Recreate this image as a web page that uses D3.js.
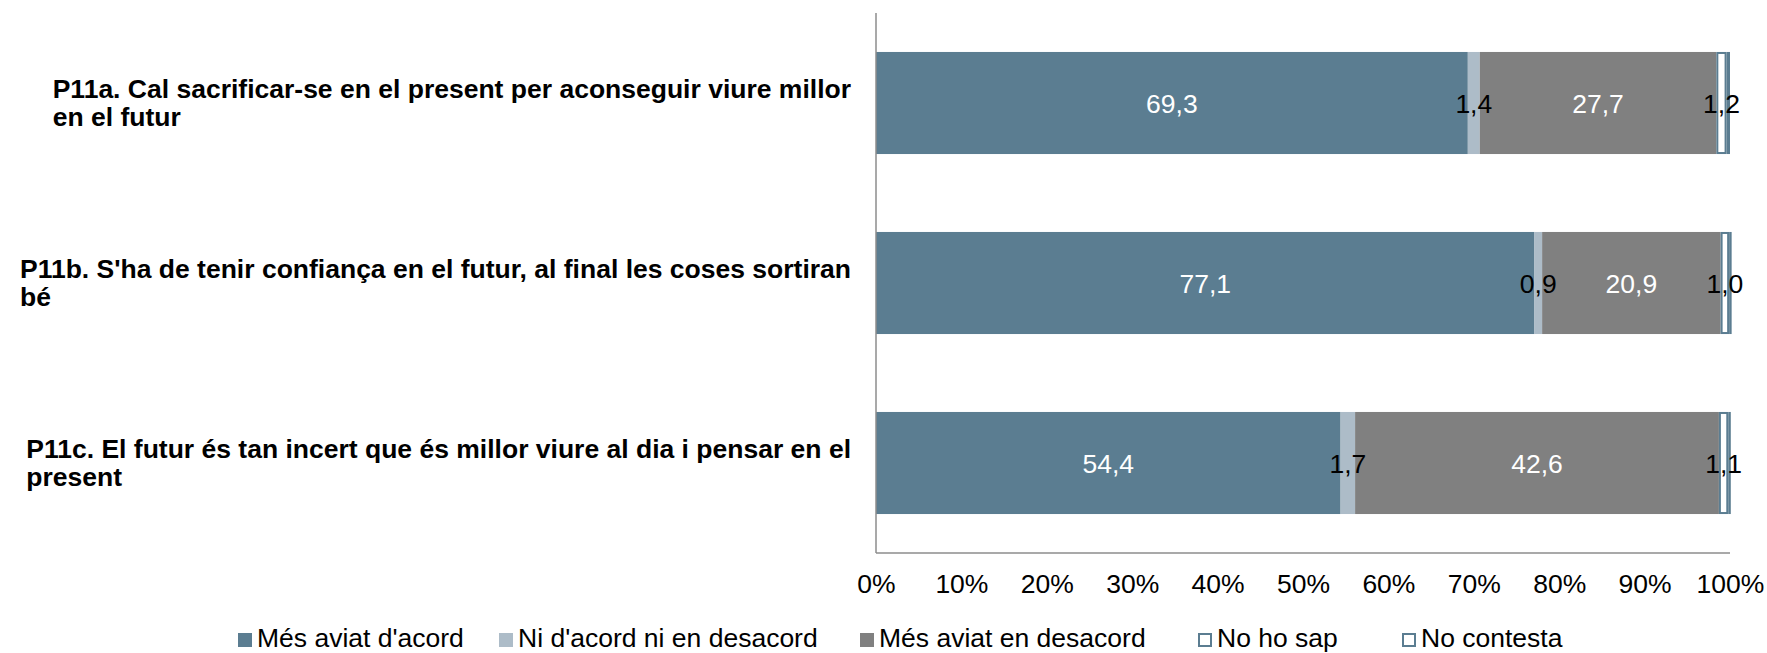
<!DOCTYPE html>
<html>
<head>
<meta charset="utf-8">
<script src="https://cdn.jsdelivr.net/npm/d3@7"></script>
<style>
  body { margin: 0; background: #fff; }
  text { font-family: "Liberation Sans", Arial, sans-serif; }
</style>
</head>
<body>
<div id="chart"></div>
<script>
// data
var categories = [
  ["P11a. Cal sacrificar-se en el present per aconseguir viure millor", "en el futur"],
  ["P11b. S'ha de tenir confiança en el futur, al final les coses sortiran", "bé"],
  ["P11c. El futur és tan incert que és millor viure al dia i pensar en el", "present"]
];
var series = ["Més aviat d'acord", "Ni d'acord ni en desacord", "Més aviat en desacord", "No ho sap", "No contesta"];
var acord = [69.3, 77.1, 54.4];
var niNi = [1.4, 0.9, 1.7];
var desacord = [27.7, 20.9, 42.6];
var noSap = [1.2, 1.0, 1.1];
var noContesta = [0.4, 0.1, 0.2];
var ticks = [0, 10, 20, 30, 40, 50, 60, 70, 80, 90, 100];

var fills = ["#5b7d91", "#adbcc8", "#808080", "#ffffff", "#ffffff"];
var strokes = [null, null, null, "#5b7d91", "#5b7d91"];
var labelColors = ["#fff", "#000", "#fff", "#000", null];
// legend item x offsets (layout)
var legendX = [0, 261, 622, 960, 1164];

var width = 1767, height = 653;
var margin = {top: 13, left: 876, right: 37, bottom: 100};
var plotW = width - margin.left - margin.right,
    plotH = height - margin.top - margin.bottom;
var fontSize = "26.5px";

var svg = d3.select("#chart")
  .append("svg")
    .attr("width", width)
    .attr("height", height);

var g = svg.append("g")
  .attr("transform", "translate(" + margin.left + "," + margin.top + ")");

var x = d3.scaleLinear()
  .domain([0, 100])
  .range([0, plotW]);

var y = d3.scaleBand()
  .domain(d3.range(categories.length))
  .range([0, plotH])
  .paddingInner(0.433)
  .paddingOuter(0.2165);

// stack rows
var values = [acord, niNi, desacord, noSap, noContesta];
var rows = categories.map(function(c, i) {
  var start = 0;
  return values.map(function(v, s) {
    var seg = {row: i, s: s, x0: start, x1: start + v[i], v: v[i]};
    start += v[i];
    return seg;
  });
});

rows.forEach(function(row) {
  g.selectAll(null)
    .data(row)
    .enter()
    .append("rect")
      .attr("x", function(d) { return x(d.x0) + (strokes[d.s] ? 1 : 0); })
      .attr("y", function(d) { return y(d.row) + (strokes[d.s] ? 1 : 0); })
      .attr("width", function(d) { return Math.max(0.5, x(d.x1) - x(d.x0) - (strokes[d.s] ? 2 : 0)); })
      .attr("height", function(d) { return y.bandwidth() - (strokes[d.s] ? 2 : 0); })
      .attr("fill", function(d) { return fills[d.s]; })
      .attr("stroke", function(d) { return strokes[d.s]; })
      .attr("stroke-width", function(d) { return strokes[d.s] ? 2 : 0; });

  g.selectAll(null)
    .data(row.filter(function(d) { return labelColors[d.s]; }))
    .enter()
    .append("text")
      .attr("x", function(d) { return x((d.x0 + d.x1) / 2); })
      .attr("y", function(d) { return y(d.row) + y.bandwidth() / 2; })
      .attr("dy", "0.36em")
      .attr("text-anchor", "middle")
      .style("font-size", fontSize)
      .attr("fill", function(d) { return labelColors[d.s]; })
      .text(function(d) { return d3.format(".1f")(d.v).replace(".", ","); });
});

// axes
g.append("line")
  .attr("x1", 0).attr("x2", 0)
  .attr("y1", 0).attr("y2", plotH)
  .attr("stroke", "#8c8c8c").attr("stroke-width", 1.5);
g.append("line")
  .attr("x1", 0).attr("x2", plotW)
  .attr("y1", plotH).attr("y2", plotH)
  .attr("stroke", "#8c8c8c").attr("stroke-width", 1.5);

var xAxis = g.append("g")
  .attr("transform", "translate(0," + plotH + ")")
  .call(d3.axisBottom(x).tickValues(ticks).tickSize(0).tickPadding(0)
    .tickFormat(function(d) { return d + "%"; }));
xAxis.select(".domain").remove();
xAxis.selectAll("text")
  .attr("dy", null)
  .attr("y", 40)
  .attr("fill", "#000")
  .style("font-size", fontSize)
  .style("font-family", '"Liberation Sans", Arial, sans-serif');

// category labels, block right-aligned, lines left-aligned
categories.forEach(function(lines, i) {
  var cy = y(i) + y.bandwidth() / 2;
  var t1 = g.append("text")
    .attr("x", -25)
    .attr("y", cy - 5)
    .attr("text-anchor", "end")
    .style("font-size", fontSize)
    .style("font-weight", "bold")
    .text(lines[0]);
  var w = t1.node().getComputedTextLength();
  g.append("text")
    .attr("x", -25 - w)
    .attr("y", cy + 23)
    .style("font-size", fontSize)
    .style("font-weight", "bold")
    .text(lines[1]);
});

// legend
var legend = svg.append("g").attr("transform", "translate(238,633)");
series.forEach(function(name, s) {
  var lx = legendX[s];
  legend.append("rect")
    .attr("x", lx + (strokes[s] ? 1 : 0))
    .attr("y", strokes[s] ? 1 : 0)
    .attr("width", strokes[s] ? 12 : 14)
    .attr("height", strokes[s] ? 12 : 14)
    .attr("fill", fills[s])
    .attr("stroke", strokes[s])
    .attr("stroke-width", strokes[s] ? 2 : 0);
  legend.append("text")
    .attr("x", lx + 19)
    .attr("y", 14)
    .style("font-size", fontSize)
    .attr("fill", "#000")
    .text(name);
});
</script>
</body>
</html>
